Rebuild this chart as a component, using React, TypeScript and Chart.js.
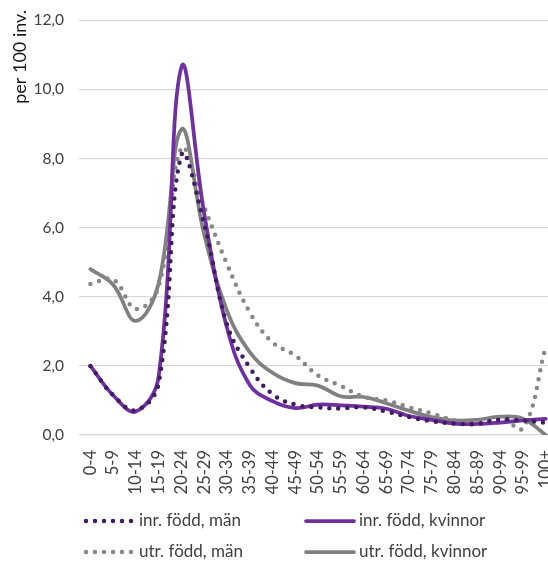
import React, { useEffect, useRef } from 'react';
import { Chart, registerables } from 'chart.js';

Chart.register(...registerables);

const ageGroups = ['0-4', '5-9', '10-14', '15-19', '20-24', '25-29', '30-34', '35-39', '40-44', '45-49', '50-54', '55-59', '60-64', '65-69', '70-74', '75-79', '80-84', '85-89', '90-94', '95-99', '100+'];

const inrFoddMan = [2.0, 1.15, 0.72, 1.5, 8.1, 6.1, 3.2, 1.95, 1.18, 0.88, 0.8, 0.77, 0.8, 0.68, 0.52, 0.4, 0.33, 0.33, 0.45, 0.42, 0.35];
const inrFoddKvinnor = [2.0, 1.15, 0.68, 1.7, 10.65, 6.4, 3.1, 1.45, 0.98, 0.78, 0.88, 0.86, 0.82, 0.76, 0.55, 0.44, 0.33, 0.32, 0.36, 0.42, 0.47];
const utrFoddMan = [4.37, 4.5, 3.65, 4.3, 8.3, 6.6, 4.95, 3.55, 2.68, 2.3, 1.72, 1.42, 1.11, 1.0, 0.8, 0.62, 0.42, 0.3, 0.5, 0.2, 2.55];
const utrFoddKvinnor = [4.8, 4.35, 3.3, 4.4, 8.85, 5.8, 3.6, 2.4, 1.8, 1.5, 1.43, 1.12, 1.1, 0.92, 0.7, 0.52, 0.42, 0.44, 0.53, 0.47, 0.0];

const seriesLabels = ['inr. född, män', 'inr. född, kvinnor', 'utr. född, män', 'utr. född, kvinnor'];
const yAxisTitle = 'per 100 inv.';

const FONT = 'Lato, "Liberation Sans", sans-serif';
const TEXT = '#404040';

export default function App() {
  const ref = useRef<HTMLCanvasElement>(null);

  useEffect(() => {
    if (!ref.current) return;
    const pts = (arr: number[]) => arr.map((y, x) => ({ x, y }));

    const gridLegend = {
      id: 'gridLegend',
      afterDraw(chart: any) {
        const ctx = chart.ctx;
        const cols = [86, 306];
        const rows = [521, 552];
        chart.data.datasets.forEach((ds: any, i: number) => {
          const x = cols[i % 2];
          const y = rows[Math.floor(i / 2)];
          ctx.save();
          ctx.strokeStyle = ds.borderColor;
          ctx.lineWidth = ds.borderWidth;
          ctx.lineCap = ds.borderCapStyle || 'butt';
          ctx.setLineDash(ds.borderDash || []);
          ctx.beginPath();
          ctx.moveTo(x, y);
          ctx.lineTo(x + 48, y);
          ctx.stroke();
          ctx.setLineDash([]);
          ctx.fillStyle = TEXT;
          ctx.font = '17px ' + FONT;
          ctx.textBaseline = 'middle';
          ctx.textAlign = 'left';
          ctx.fillText(ds.label, x + 53, y);
          ctx.restore();
        });
      },
    };

    const dotted = { borderDash: [0, 9], borderCapStyle: 'round', borderWidth: 4.5 };
    const solid = { borderDash: [], borderCapStyle: 'round', borderWidth: 3.75 };

    const chart = new Chart(ref.current, {
      type: 'line',
      data: {
        datasets: [
          { label: seriesLabels[0], data: pts(inrFoddMan), borderColor: '#3f1d60', ...dotted },
          { label: seriesLabels[1], data: pts(inrFoddKvinnor), borderColor: '#7030a0', ...solid },
          { label: seriesLabels[2], data: pts(utrFoddMan), borderColor: '#888888', ...dotted },
          { label: seriesLabels[3], data: pts(utrFoddKvinnor), borderColor: '#808080', ...solid },
        ] as any,
      },
      options: {
        animation: false,
        responsive: false,
        layout: { padding: { top: 10, bottom: 64, left: 0, right: 0 } },
        plugins: { legend: { display: false }, tooltip: { enabled: false } },
        elements: { point: { radius: 0 }, line: { tension: 0.4, fill: false } },
        scales: {
          x: {
            type: 'linear',
            min: -0.5,
            max: 20.1,
            grid: { display: false, drawTicks: false },
            border: { display: false },
            ticks: {
              stepSize: 1,
              includeBounds: false,
              autoSkip: false,
              maxRotation: 90,
              minRotation: 90,
              padding: 15,
              color: TEXT,
              font: { family: FONT, size: 16.5 },
              callback: (v: any) => (Number.isInteger(v) && ageGroups[v] !== undefined ? ageGroups[v] : ''),
            },
            afterFit: (s: any) => {
              s.height = 62;
              s.paddingLeft = 0;
              s.paddingRight = 0;
            },
          },
          y: {
            min: 0,
            max: 12.3,
            grid: { color: '#d9d9d9', lineWidth: 1.3, drawTicks: false },
            border: { display: false },
            ticks: {
              stepSize: 2,
              includeBounds: false,
              padding: 15,
              color: TEXT,
              font: { family: FONT, size: 15.5 },
              callback: (v: any) => Number(v).toFixed(1).replace('.', ','),
            },
            title: {
              display: true,
              text: yAxisTitle,
              align: 'end',
              color: '#1a1a1a',
              font: { family: FONT, size: 18 },
              padding: { top: 9, bottom: 0 },
            },
            afterFit: (s: any) => {
              s.width = 79;
              s.paddingTop = 0;
              s.paddingBottom = 0;
            },
          },
        },
      } as any,
      plugins: [gridLegend],
    });
    return () => chart.destroy();
  }, []);

  return (
    <div style={{ position: 'absolute', left: 0, top: 0 }}>
      <canvas ref={ref} width={548} height={561} style={{ display: 'block' }} />
    </div>
  );
}
